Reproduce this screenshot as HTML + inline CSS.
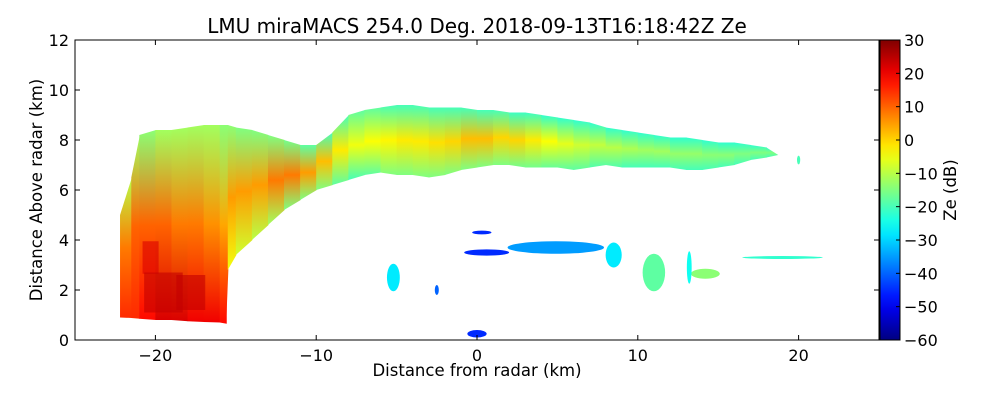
<!DOCTYPE html>
<html><head><meta charset="utf-8">
<style>
body{margin:0;background:#fff;}
svg{display:block;font-family:"DejaVu Sans","Liberation Sans",sans-serif;}
</style></head>
<body>
<svg id="chart" width="1000" height="400" viewBox="0 0 1000 400">
  <defs id="defs"></defs>
  <rect x="0" y="0" width="1000" height="400" fill="#fff"/>
  <text x="477" y="33" font-size="20" text-anchor="middle" fill="#000">LMU miraMACS 254.0 Deg. 2018-09-13T16:18:42Z  Ze</text>
  <g id="marks"></g>
  <g id="axes"></g>
  <text x="477" y="376" font-size="16.5" text-anchor="middle">Distance from radar (km)</text>
  <text transform="translate(42,190) rotate(-90)" font-size="16.5" text-anchor="middle">Distance Above radar  (km)</text>
  <text transform="translate(956,190) rotate(-90)" font-size="16.5" text-anchor="middle">Ze (dB)</text>
</svg>
<script>
// main echo outline points (km) and reflectivity profile at each point
const edgeX = [-22.2,-21.5,-21,-20,-19,-18,-17,-16,-15.6,-15.5,-15,-14,-13,-12,-11,-10,-9,-8,-7,-6,-5,-4,-3,-2,-1,0,1,2,3,4,5,6,7,8,9,10,11,12,13,14,15,16,17,18,18.7];
const edgeTop = [5.0,6.5,8.2,8.4,8.4,8.5,8.6,8.6,8.6,8.6,8.5,8.4,8.2,8.0,7.8,7.8,8.3,9.0,9.2,9.3,9.4,9.4,9.3,9.3,9.3,9.2,9.2,9.1,9.1,9.0,8.9,8.8,8.7,8.5,8.4,8.3,8.2,8.1,8.1,8.0,7.9,7.9,7.8,7.7,7.4];
const edgeBottom = [0.9,0.88,0.85,0.8,0.8,0.75,0.72,0.7,0.65,2.8,3.4,4.0,4.6,5.2,5.6,6.0,6.2,6.4,6.6,6.7,6.6,6.6,6.5,6.6,6.8,6.9,7.0,7.0,6.9,6.9,6.9,6.8,6.9,7.0,6.9,6.9,6.9,6.9,6.8,6.8,6.9,7.0,7.2,7.3,7.4];
const zeBottom = [15,15,18,22,22,20,20,18,18,-5,-8,-10,-12,-15,-15,-15,-18,-20,-18,-15,-15,-15,-15,-15,-15,-15,-15,-16,-16,-17,-18,-18,-19,-19,-20,-20,-20,-20,-20,-20,-20,-20,-20,-20,-20];
const zeMid = [8,10,10,10,8,8,6,4,4,5,5,5,8,8,5,2,-2,-5,-4,-3,-2,-2,-1,0,2,2,0,0,-2,-4,-6,-8,-9,-10,-11,-12,-12,-13,-13,-14,-14,-15,-15,-15,-15];
const zeTop = [-10,-12,-14,-12,-12,-12,-12,-14,-14,-14,-15,-15,-15,-16,-18,-20,-20,-18,-18,-20,-20,-20,-20,-20,-20,-20,-20,-21,-21,-22,-22,-22,-22,-22,-22,-22,-22,-22,-22,-22,-22,-22,-22,-22,-22];
// red core near the left
const coreX = [-20.3,-19.5,-17.8];
const coreY = [3.3,1.9,1.9];
const coreW = [1.0,2.4,1.8];
const coreH = [1.3,1.6,1.4];
const coreZe = [22,24,24];
// isolated echoes
const blobX = [4.9,0.6,0.3,8.5,11.0,14.2,13.2,19.0,-5.2,-2.5,0.0,20.0];
const blobY = [3.7,3.5,4.3,3.4,2.7,2.65,2.9,3.3,2.5,2.0,0.25,7.2];
const blobW = [6.0,2.8,1.2,1.0,1.4,1.8,0.3,5.0,0.8,0.25,1.2,0.2];
const blobH = [0.5,0.25,0.15,1.0,1.5,0.4,1.3,0.12,1.1,0.4,0.3,0.35];
const blobZe = [-35,-45,-45,-28,-18,-14,-25,-22,-28,-40,-45,-20];
const xTicks = [-20,-10,0,10,20];
const yTicks = [0,2,4,6,8,10,12];
const cbTicks = [30,20,10,0,-10,-20,-30,-40,-50,-60];

const L=75,R=879,T=40,B=340;
const sx = v => L + (v + 25) / 50 * (R - L);
const sy = v => B - v / 12 * (B - T);
const cbY = v => B - (v + 60) / 90 * (B - T);
const NS='http://www.w3.org/2000/svg';
function cl(v){return Math.max(0,Math.min(1,v));}
function jet(z){const t=cl((z+60)/90);
 const r=cl(1.5-Math.abs(4*t-3)),g=cl(1.5-Math.abs(4*t-2)),b=cl(1.5-Math.abs(4*t-1));
 return 'rgb('+Math.round(r*255)+','+Math.round(g*255)+','+Math.round(b*255)+')';}
function mk(tag,attrs,parent){const e=document.createElementNS(NS,tag);for(const k in attrs)e.setAttribute(k,attrs[k]);parent.appendChild(e);return e;}
const defs=document.getElementById('defs'), marks=document.getElementById('marks'), axes=document.getElementById('axes');

for(let i=0;i<edgeX.length-1;i++){
  const yt=Math.min(sy(edgeTop[i]),sy(edgeTop[i+1])), yb=Math.max(sy(edgeBottom[i]),sy(edgeBottom[i+1]));
  const g=mk('linearGradient',{id:'cg'+i,gradientUnits:'userSpaceOnUse',x1:0,y1:yt,x2:0,y2:yb},defs);
  mk('stop',{offset:0,'stop-color':jet(zeTop[i])},g);
  mk('stop',{offset:0.5,'stop-color':jet(zeMid[i])},g);
  mk('stop',{offset:1,'stop-color':jet(zeBottom[i])},g);
  const x0=sx(edgeX[i]), x1=sx(edgeX[i+1])+0.6;
  const pts=[x0+','+sy(edgeTop[i]), x1+','+sy(edgeTop[i+1]), x1+','+sy(edgeBottom[i+1]), x0+','+sy(edgeBottom[i])].join(' ');
  const p=mk('polygon',{points:pts,fill:'url(#cg'+i+')'},marks);
  
  
}
coreX.forEach((x,i)=>{
  const r=mk('rect',{x:sx(x-coreW[i]/2),y:sy(coreY[i]+coreH[i]/2),width:sx(coreW[i])-sx(0),height:sy(0)-sy(coreH[i]),fill:jet(coreZe[i]),opacity:0.6},marks);
  
  
});
blobX.forEach((x,i)=>{
  const e=mk('ellipse',{cx:sx(x),cy:sy(blobY[i]),rx:(sx(blobW[i])-sx(0))/2,ry:(sy(0)-sy(blobH[i]))/2,fill:jet(blobZe[i])},marks);
  
  
});

const fr=mk('rect',{x:L,y:T,width:R-L,height:B-T,fill:'none',stroke:'#000','stroke-width':1},axes);


xTicks.forEach(v=>{
  const X=sx(v);
  mk('line',{x1:X,y1:B,x2:X,y2:B-5,stroke:'#000'},axes);
  mk('line',{x1:X,y1:T,x2:X,y2:T+5,stroke:'#000'},axes);
  const t=mk('text',{x:X,y:B+21,'font-size':16,'text-anchor':'middle'},axes);
  t.textContent=v<0?'\u2212'+(-v):String(v);
  
  
});
yTicks.forEach(v=>{
  const Y=sy(v);
  mk('line',{x1:L,y1:Y,x2:L+5,y2:Y,stroke:'#000'},axes);
  mk('line',{x1:R,y1:Y,x2:R-5,y2:Y,stroke:'#000'},axes);
  const t=mk('text',{x:L-6,y:Y+6,'font-size':16,'text-anchor':'end'},axes);
  t.textContent=String(v);
  
  
});
const cg=mk('linearGradient',{id:'cbg',x1:0,y1:1,x2:0,y2:0},defs);
for(let k=0;k<=20;k++){mk('stop',{offset:k/20,'stop-color':jet(-60+90*k/20)},cg);}
const cb=mk('rect',{x:880,y:T,width:20,height:B-T,fill:'url(#cbg)',stroke:'#000','stroke-width':1},axes);


cbTicks.forEach(v=>{
  const Y=cbY(v);
  mk('line',{x1:896,y1:Y,x2:900,y2:Y,stroke:'#000'},axes);
  const t=mk('text',{x:904,y:Y+6,'font-size':16},axes);
  t.textContent=v<0?'\u2212'+(-v):String(v);
  
  
});
</script>
</body></html>
